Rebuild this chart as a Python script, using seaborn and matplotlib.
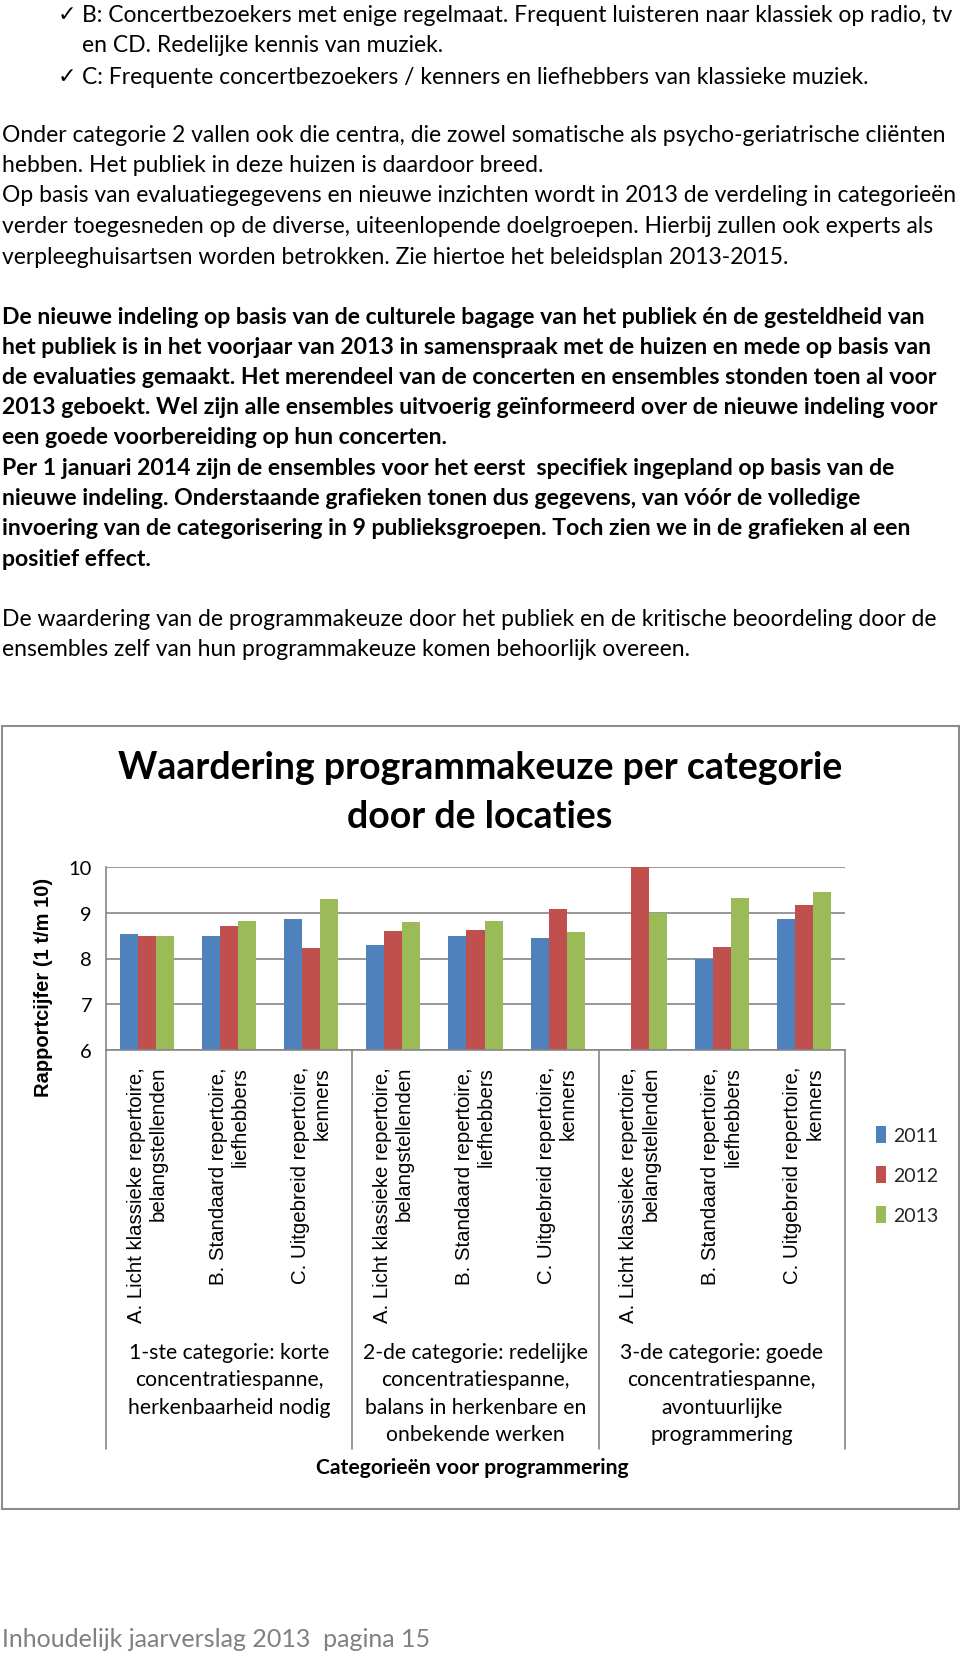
import numpy as np
import pandas as pd
import matplotlib
matplotlib.use("Agg")
import matplotlib.pyplot as plt
import matplotlib.transforms as mtransforms
from matplotlib.patches import Rectangle
import seaborn as sns

W, H = 960, 1656

# chart data
jaren = ["2011", "2012", "2013"]
kleuren = ["#4F81BD", "#C0504D", "#9BBB59"]
groepen = [
    "1-ste categorie: korte\nconcentratiespanne,\nherkenbaarheid nodig",
    "2-de categorie: redelijke\nconcentratiespanne,\nbalans in herkenbare en\nonbekende werken",
    "3-de categorie: goede\nconcentratiespanne,\navontuurlijke\nprogrammering",
]
repertoire = [
    "A. Licht klassieke repertoire,\nbelangstellenden",
    "B. Standaard repertoire,\nliefhebbers",
    "C. Uitgebreid repertoire,\nkenners",
]
cijfers_2011 = [8.53, 8.50, 8.87, 8.30, 8.50, 8.45, np.nan, 8.00, 8.87]
cijfers_2012 = [8.50, 8.72, 8.23, 8.60, 8.62, 9.08, 10.0, 8.25, 9.16]
cijfers_2013 = [8.50, 8.81, 9.30, 8.79, 8.82, 8.59, 9.00, 9.33, 9.45]
yticks = [6, 7, 8, 9, 10]

titel = ["Waardering programmakeuze per categorie", "door de locaties"]
ylabel = "Rapportcijfer (1 t/m 10)"
xlabel = "Categorieën voor programmering"

# page text
opsomming = [
    "B: Concertbezoekers met enige regelmaat. Frequent luisteren naar klassiek op radio, tv",
    "en CD. Redelijke kennis van muziek.",
    "C: Frequente concertbezoekers / kenners en liefhebbers van klassieke muziek.",
]
alinea_1 = [
    "Onder categorie 2 vallen ook die centra, die zowel somatische als psycho-geriatrische cliënten",
    "hebben. Het publiek in deze huizen is daardoor breed.",
    "Op basis van evaluatiegegevens en nieuwe inzichten wordt in 2013 de verdeling in categorieën",
    "verder toegesneden op de diverse, uiteenlopende doelgroepen. Hierbij zullen ook experts als",
    "verpleeghuisartsen worden betrokken. Zie hiertoe het beleidsplan 2013-2015.",
]
alinea_2 = [
    "De nieuwe indeling op basis van de culturele bagage van het publiek én de gesteldheid van",
    "het publiek is in het voorjaar van 2013 in samenspraak met de huizen en mede op basis van",
    "de evaluaties gemaakt. Het merendeel van de concerten en ensembles stonden toen al voor",
    "2013 geboekt. Wel zijn alle ensembles uitvoerig geïnformeerd over de nieuwe indeling voor",
    "een goede voorbereiding op hun concerten.",
    "Per 1 januari 2014 zijn de ensembles voor het eerst  specifiek ingepland op basis van de",
    "nieuwe indeling. Onderstaande grafieken tonen dus gegevens, van vóór de volledige",
    "invoering van de categorisering in 9 publieksgroepen. Toch zien we in de grafieken al een",
    "positief effect.",
]
alinea_3 = [
    "De waardering van de programmakeuze door het publiek en de kritische beoordeling door de",
    "ensembles zelf van hun programmakeuze komen behoorlijk overeen.",
]
voettekst = "Inhoudelijk jaarverslag 2013  pagina 15"

rows = []
for k in range(len(groepen) * len(repertoire)):
    for jaar, reeks in zip(jaren, [cijfers_2011, cijfers_2012, cijfers_2013]):
        rows.append({"positie": str(k), "jaar": jaar, "cijfer": reeks[k]})
df = pd.DataFrame(rows)

sns.set_theme(style="white")
plt.rcParams["font.family"] = ["Lato", "DejaVu Sans"]

fig = plt.figure(figsize=(W / 100, H / 100), dpi=100)
fig.patch.set_facecolor("white")


def fx(x):
    return x / W


def fy(y):
    return 1 - y / H


def regels(lines, x0, y0, step, **kw):
    for i, line in enumerate(lines):
        fig.text(fx(x0), fy(y0 + i * step), line, ha="left", va="center",
                 color="black", **kw)


# text above the chart
regels(opsomming, 82, 15, 31, fontsize=16.5)
for y in [15, 77]:
    fig.text(fx(58), fy(y), "\u2713", ha="left", va="center", fontsize=16,
             family=["DejaVu Sans"], color="black")
regels(alinea_1, 2, 135, 30.5, fontsize=16.5)
regels(alinea_2, 2, 317, 30.25, fontsize=16.6, weight="bold")
regels(alinea_3, 2, 619, 30, fontsize=16.5)

# chart frame
fig.patches.append(Rectangle((fx(2), fy(1510)), fx(957), 783 / H,
                             transform=fig.transFigure, fill=False,
                             edgecolor="#8c8c8c", lw=1.5))

for i, t in enumerate(titel):
    fig.text(fx(480), fy(768 + i * 49), t, ha="center", va="center",
             fontsize=27, weight="bold", color="black")

ax = fig.add_axes([fx(106), fy(1051), 739 / W, 183 / H])
sns.barplot(data=df, x="positie", y="cijfer", hue="jaar", palette=kleuren,
            hue_order=jaren, width=0.66, saturation=1, errorbar=None,
            linewidth=0, ax=ax)

ax.set_ylim(6, 10)
ax.set_yticks(yticks)
ax.set_xlim(-0.5, 8.5)
ax.set_xlabel("")
ax.set_ylabel("")
ax.yaxis.grid(True, color="#868686", lw=1.2)
ax.set_axisbelow(True)
for s in ["top", "right"]:
    ax.spines[s].set_visible(False)
for s in ["left", "bottom"]:
    ax.spines[s].set_color("#868686")
    ax.spines[s].set_linewidth(1.2)
ax.tick_params(axis="y", length=5, width=1.2, color="#868686", pad=5,
               labelsize=14.5, labelcolor="black")

ax.set_xticks(range(9))
ax.set_xticklabels(repertoire * 3)
ax.tick_params(axis="x", length=0, pad=11.5)
for t in ax.get_xticklabels():
    t.set_rotation(90)
    t.set_multialignment("right")
    t.set_family(["Liberation Sans", "DejaVu Sans"])
    t.set_fontsize(14.7)
    t.set_color("black")

trans = mtransforms.blended_transform_factory(ax.transData, fig.transFigure)
for x in [-0.5, 2.5, 5.5, 8.5]:
    ax.plot([x, x], [fy(1051), fy(1450)], transform=trans, color="#868686",
            lw=1.2, clip_on=False)

for gi, g in enumerate(groepen):
    for li, line in enumerate(g.split("\n")):
        ax.text(gi * 3 + 1, fy(1353 + li * 27.5), line, transform=trans,
                ha="center", va="center", fontsize=15.2, color="black")

fig.text(fx(472), fy(1468), xlabel, ha="center", va="center", fontsize=15.2,
         weight="bold", color="black")
fig.text(fx(44), fy(987), ylabel, ha="center", va="center", rotation=90,
         fontsize=14.5, weight="bold", family=["Liberation Sans", "DejaVu Sans"],
         color="black")

handles, labels = ax.get_legend_handles_labels()
ax.legend(handles, labels, loc="center left",
          bbox_to_anchor=(fx(868), fy(1176)), bbox_transform=fig.transFigure,
          frameon=False, prop={"family": "Lato", "size": 14},
          handlelength=0.55, handleheight=1.0, handletextpad=0.35,
          labelspacing=1.1, borderaxespad=0)

fig.text(fx(2), fy(1640), voettekst, ha="left", va="center", fontsize=18,
         color="#808080")

fig.savefig("out.png", dpi=100, facecolor="white")
